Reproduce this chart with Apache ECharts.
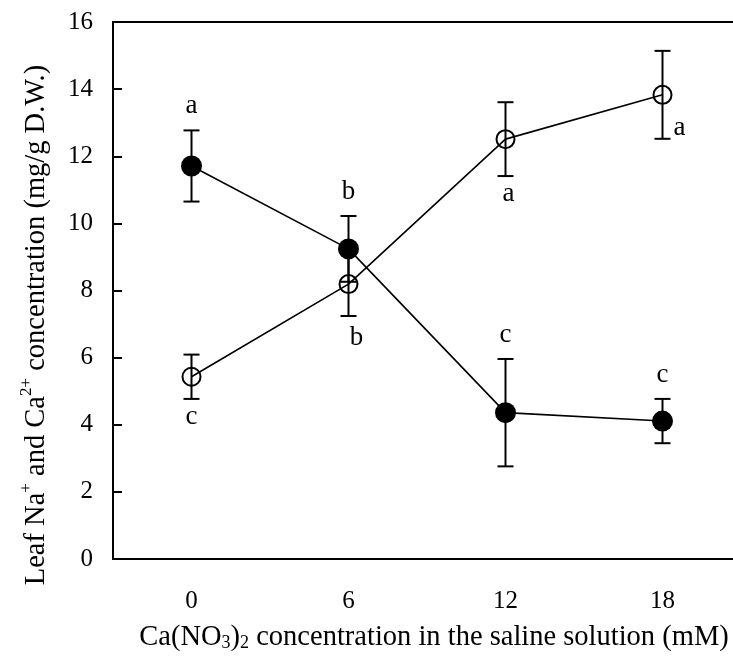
<!DOCTYPE html>
<html>
<head>
<meta charset="utf-8">
<script src="https://cdn.jsdelivr.net/npm/echarts@6/dist/echarts.min.js"></script>
<style>
  html, body { margin: 0; padding: 0; background: #fff; }
  #container { width: 733px; height: 664px; }
</style>
</head>
<body>
<div id="container"></div>
<script>
// Ca(NO3)2 levels (mM)
var categories = ['0', '6', '12', '18'];

// filled circles: leaf Na+
var naMean = [11.71, 9.24, 4.36, 4.11];
var naErr = [1.06, 0.98, 1.60, 0.66];
var naLetters = ['a', 'b', 'c', 'c'];

// open circles: leaf Ca2+
var caMean = [5.43, 8.19, 12.51, 13.83];
var caErr = [0.66, 0.95, 1.10, 1.31];
var caLetters = ['c', 'b', 'a', 'a'];

var yTicks = [0, 2, 4, 6, 8, 10, 12, 14, 16];

var FONT = 'Liberation Serif';

var dom = document.getElementById('container');
var myChart = echarts.init(dom, null, { renderer: 'canvas' });

var barData = function (mean, err) {
    return mean.map(function (m, i) {
        return [i, m - err[i], m + err[i]];
    });
};

// pixel nudges for the letters under the open circles (style only)
var caShift = [[0, 4], [8, 8], [3, 4], [0, 0]];

var errorBars = function (letters, below) {
    return function (params, api) {
        var i = api.value(0);
        var lo = api.coord([i, api.value(1)]);
        var hi = api.coord([i, api.value(2)]);
        var x = lo[0];
        var cap = 8;
        var lineStyle = { stroke: '#000', lineWidth: 2 };
        var children = [
            { type: 'line', shape: { x1: x, y1: lo[1], x2: x, y2: hi[1] }, style: lineStyle },
            { type: 'line', shape: { x1: x - cap, y1: lo[1], x2: x + cap, y2: lo[1] }, style: lineStyle },
            { type: 'line', shape: { x1: x - cap, y1: hi[1], x2: x + cap, y2: hi[1] }, style: lineStyle }
        ];
        var txt;
        if (!below) {
            txt = { x: x, y: hi[1] - 11, text: letters[i], align: 'center', verticalAlign: 'bottom' };
        } else if (i === letters.length - 1) {
            // last one sits to the right of the bar
            txt = { x: x + 11, y: lo[1] + 3, text: letters[i], align: 'left', verticalAlign: 'bottom' };
        } else {
            txt = { x: x + caShift[i][0], y: lo[1] + caShift[i][1], text: letters[i], align: 'center', verticalAlign: 'top' };
        }
        txt.fill = '#000';
        txt.font = '27px "' + FONT + '"';
        children.push({ type: 'text', style: txt });
        return { type: 'group', children: children };
    };
};

var option = {
    backgroundColor: '#fff',
    animation: false,
    grid: {
        left: 113,
        top: 22,
        width: 628,
        height: 537,
        outerBoundsMode: 'none',
        containLabel: false,
        show: true,
        borderColor: '#000',
        borderWidth: 2,
        backgroundColor: 'transparent'
    },
    xAxis: {
        type: 'category',
        data: categories,
        boundaryGap: true,
        name: '{n|Ca(NO}{sub|3}{n|)}{sub|2}{n| concentration in the saline solution (mM)}',
        nameLocation: 'middle',
        nameGap: 64,
        nameTextStyle: {
            padding: [0, 0, 0, 14],
            rich: {
                n: { fontFamily: FONT, fontSize: 28.5, color: '#000', verticalAlign: 'bottom' },
                sub: { fontFamily: FONT, fontSize: 18, color: '#000', verticalAlign: 'bottom' }
            }
        },
        axisLine: { lineStyle: { color: '#000', width: 2 } },
        axisTick: { inside: true, length: 9, lineStyle: { color: '#000', width: 2 } },
        axisLabel: { margin: 30, fontFamily: FONT, fontSize: 25, color: '#000' },
        splitLine: { show: false }
    },
    yAxis: {
        type: 'value',
        min: yTicks[0],
        max: yTicks[yTicks.length - 1],
        interval: 2,
        name: '{n|Leaf Na}{sup|+}{n| and Ca}{sup|2+}{n| concentration (mg/g D.W.)}',
        nameLocation: 'middle',
        nameGap: 62,
        nameTextStyle: {
            padding: [0, 69, 0, 0],
            rich: {
                n: { fontFamily: FONT, fontSize: 28.5, color: '#000', verticalAlign: 'bottom' },
                sup: { fontFamily: FONT, fontSize: 17, color: '#000', verticalAlign: 'bottom', padding: [0, 0, 16, 0] }
            }
        },
        axisLine: { show: true, lineStyle: { color: '#000', width: 2 } },
        axisTick: { show: true, inside: true, length: 9, lineStyle: { color: '#000', width: 2 } },
        axisLabel: { margin: 20, fontFamily: FONT, fontSize: 25, color: '#000' },
        splitLine: { show: false }
    },
    series: [
        {
            name: 'Ca err',
            type: 'custom',
            data: barData(caMean, caErr),
            renderItem: errorBars(caLetters, true),
            silent: true,
            z: 1
        },
        {
            name: 'Na err',
            type: 'custom',
            data: barData(naMean, naErr),
            renderItem: errorBars(naLetters, false),
            silent: true,
            z: 1
        },
        {
            name: 'Ca',
            type: 'line',
            data: caMean,
            symbol: 'circle',
            symbolSize: 18,
            lineStyle: { color: '#000', width: 1.6 },
            itemStyle: { color: 'rgba(0,0,0,0)', borderColor: '#000', borderWidth: 2 },
            emphasis: { disabled: true },
            silent: true,
            z: 3
        },
        {
            name: 'Na',
            type: 'line',
            data: naMean,
            symbol: 'circle',
            symbolSize: 21,
            lineStyle: { color: '#000', width: 1.6 },
            itemStyle: { color: '#000', borderWidth: 0 },
            emphasis: { disabled: true },
            silent: true,
            z: 3
        }
    ]
};

myChart.setOption(option);
</script>
</body>
</html>
